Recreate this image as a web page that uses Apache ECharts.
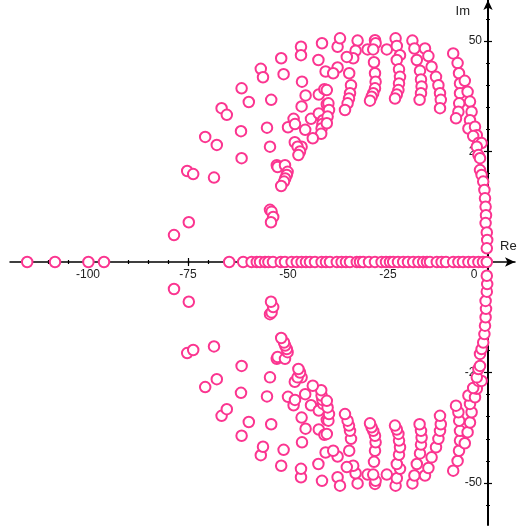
<!DOCTYPE html>
<html>
<head>
<meta charset="utf-8">
<script src="https://cdn.jsdelivr.net/npm/echarts@6/dist/echarts.min.js"></script>
<style>html,body{margin:0;padding:0;background:#fff}#c{width:520px;height:530px}</style>
</head>
<body>
<div id="c"></div>
<script>
// Complex roots, upper half-plane [Re, Im]; roots come in conjugate pairs.
var upperRoots = [
[-78.5,6.1],[-74.8,9.0],[-75.2,20.6],[-73.7,19.9],[-68.5,19.1],[-70.7,28.3],[-67.8,26.5],
[-66.6,34.8],[-65.3,33.3],[-61.6,39.3],[-61.75,29.6],[-61.6,23.5],[-59.8,36.2],[-56.8,43.7],
[-56.25,41.8],[-55.25,30.4],[-54.5,26.1],[-54.2,36.7],[-51.7,46.1],[-51.1,42.5],[-46.75,48.7],
[-46.75,46.8],[-41.5,49.5],[-42.4,45.7],[-46.5,40.8],[-40.6,43.1],[-45.6,37.7],[-42.3,37.9],
[-40.9,39.1],[-46.6,35.2],[-40.3,35.7],[-48.6,32.4],[-50.0,30.5],[-48.25,31.2],[-44.25,32.4],
[-42.3,33.6],[-41.25,32.1],[-41.4,31.2],[-41.6,30.2],[-41.7,29.0],[-45.7,29.9],[-43.8,28.0],
[-48.3,27.1],[-46.6,26.1],[-47.6,26.1],[-47.0,25.0],[-47.4,24.2],[-52.8,21.9],[-52.6,21.5],
[-50.75,21.9],[-50.1,20.4],[-50.3,19.7],[-50.7,18.9],[-51.0,18.2],[-51.7,17.2],[-54.5,11.8],
[-54.1,11.4],[-53.7,10.2],[-54.25,9.0],
[-37.6,48.7],[-37.0,50.6],[-32.6,50.1],[-33.1,47.8],[-33.7,46.1],[-35.3,46.4],[-37.6,44.0],
[-38.7,42.7],[-34.7,42.7],[-34.25,40.0],[-34.5,38.2],[-34.75,37.0],[-35.1,35.9],[-35.75,34.4],
[-40.3,38.9],[-39.9,35.9],[-39.75,34.4],[-40.1,32.9],[-40.3,31.4],
[-28.25,50.2],[-28.1,49.5],[-30.1,48.1],[-28.7,48.1],[-25.3,48.1],[-28.5,45.2],[-28.25,42.7],
[-28.1,40.8],[-28.25,39.3],[-28.7,38.2],[-29.1,37.4],[-29.5,36.5],
[-23.1,50.6],[-22.8,48.9],[-22.0,46.8],[-22.8,45.7],[-22.25,43.6],[-22.0,41.9],[-22.25,40.4],
[-22.4,38.9],[-22.8,37.9],[-23.25,37.0],
[-18.9,50.1],[-18.4,48.3],[-15.75,48.3],[-14.9,46.6],[-17.8,45.7],[-17.0,43.3],[-16.75,41.3],
[-16.6,39.7],[-16.75,38.2],[-17.1,36.7],[-14.1,44.2],[-13.0,41.9],[-12.4,40.0],[-12.0,38.2],
[-11.8,36.7],[-12.0,34.8],
[-8.7,47.2],[-7.6,45.0],[-7.25,42.7],[-7.0,40.4],[-7.0,38.2],[-7.2,35.9],[-7.4,34.0],[-8.0,32.5],
[-5.8,41.0],[-5.1,38.5],[-4.5,36.3],[-4.1,34.0],[-4.5,32.1],[-4.9,30.2],[-3.25,30.6],[-2.8,28.7],
[-3.7,28.5],[-2.4,26.9],[-1.6,26.9],[-2.8,26.1],[-2.4,24.2],[-2.0,23.5],[-2.0,20.8],[-1.6,19.7],
[-1.2,18.2],[-0.9,16.3],[-0.75,14.4],[-0.6,12.5],[-0.5,10.6],[-0.6,8.8],[-0.3,6.7],[-0.2,5.0],
[-0.3,3.1]
];
// Real roots [Re]
var realRoots = [
-115.2,-108.25,-99.9,-96,-64.7,-61.2,-59.1,-57.8,-57,-55.75,-54.9,-53.75,-51.8,-50.75,-49.1,
-47.8,-46.6,-45.5,-44.5,-43.25,-41.6,-40.5,-39.5,-37.8,-36.6,-35.5,-34.5,-32.8,-32,-31.2,
-29.75,-28.25,-26.6,-25.5,-24.5,-23.7,-22.5,-21.2,-20,-18.7,-17.4,-16.2,-15.25,-14.5,-12.8,
-11.6,-10.5,-8.7,-7.4,-6.25,-4.9,-3.7,-2.4,-1.25,-0.3
];
var xTickValues = [-115,-110,-105,-100,-95,-90,-85,-80,-75,-70,-65,-60,-55,-50,-45,-40,-35,-30,-25,-20,-15,-10,-5,5];
var xMajorValues = [-100,-75,-50,-25];
var xLabelValues = [-100,-75,-50,-25,0];
var yTickValues = [-55,-50,-45,-40,-35,-30,-25,-20,-15,-10,-5,5,10,15,20,25,30,35,40,45,50,55];
var yMajorValues = [-50,-25,25,50];
var yLabelValues = [-50,-25,25,50];

var roots = [];
upperRoots.forEach(function (p) { roots.push([p[0], p[1]]); roots.push([p[0], -p[1]]); });
realRoots.forEach(function (r) { roots.push([r, 0]); });

var XMIN = -119.5, XMAX = 6.75, YMIN = -59.5, YMAX = 59.28;
var FONT = 'Liberation Sans, Arial, sans-serif';
var W = 520, H = 530, GL = 10, GR = 5, GT = 0, GB = 5;
var pxPerX = (W - GL - GR) / (XMAX - XMIN);
var pxPerY = (H - GT - GB) / (YMAX - YMIN);
var x0 = GL + (0 - XMIN) * pxPerX;   // pixel of Re = 0
var y0 = GT + (YMAX - 0) * pxPerY;   // pixel of Im = 0

function g(o) { o.outerBoundsMode = 'none'; o.containLabel = false; return o; }
var grids = [
  g({ left: GL, right: GR, top: GT, bottom: GB }),             // 0: data
  g({ left: GL, right: GR, top: GT, height: y0 - GT }),       // 1: x axis, ticks down
  g({ left: GL, right: GR, top: y0, bottom: GB }),            // 2: x axis, ticks up
  g({ left: x0, right: GR, top: GT, bottom: GB }),            // 3: y axis, ticks left
  g({ left: GL, width: x0 - GL, top: GT, bottom: GB })        // 4: y axis, ticks right
];

function hidden(type, gi) {
  var o = { type: 'value', gridIndex: gi, show: false, splitLine: { show: false } };
  if (type === 'x') { o.min = XMIN; o.max = XMAX; } else { o.min = YMIN; o.max = YMAX; }
  return o;
}
function xAx(gi, pos, ticks, len, main) {
  return {
    type: 'value', gridIndex: gi, min: XMIN, max: XMAX, position: pos,
    name: main ? 'Re' : '', nameLocation: 'end', nameGap: -15,
    nameTextStyle: { color: '#222', fontSize: 13, fontFamily: FONT, verticalAlign: 'bottom', padding: [0, 0, 9, 0] },
    axisLine: { show: true, onZero: false, symbol: main ? ['none', 'arrow'] : 'none', symbolSize: [7, 10],
      lineStyle: { color: '#000', width: 1.5, opacity: main ? 1 : 0 } },
    axisTick: { show: true, customValues: ticks, length: len, lineStyle: { color: '#000', width: 1.2 } },
    axisLabel: main ? { show: true, customValues: xLabelValues, margin: 7, color: '#222', fontSize: 12, fontFamily: FONT,
      formatter: function (v) { return v === 0 ? '{z|0}' : String(v); },
      rich: { z: { padding: [0, 28, 0, 0], color: '#222', fontSize: 12, fontFamily: FONT } } } : { show: false },
    splitLine: { show: false }
  };
}
function yAx(gi, pos, ticks, len, main) {
  return {
    type: 'value', gridIndex: gi, min: YMIN, max: YMAX, position: pos,
    name: main ? 'Im' : '', nameLocation: 'end', nameGap: -18,
    nameTextStyle: { color: '#222', fontSize: 13, fontFamily: FONT, align: 'right', verticalAlign: 'bottom', padding: [0, 18, 0, 0] },
    axisLine: { show: true, onZero: false, symbol: main ? ['none', 'arrow'] : 'none', symbolSize: [7, 10],
      lineStyle: { color: '#000', width: 2, opacity: main ? 1 : 0 } },
    axisTick: { show: true, customValues: ticks, length: len, lineStyle: { color: '#000', width: 1.2 } },
    axisLabel: main ? { show: true, customValues: yLabelValues, margin: 6, color: '#222', fontSize: 12, fontFamily: FONT } : { show: false },
    splitLine: { show: false }
  };
}

var chart = echarts.init(document.getElementById('c'), null, { renderer: 'canvas' });
chart.setOption({
  animation: false,
  backgroundColor: '#fff',
  grid: grids,
  xAxis: [
    hidden('x', 0),
    xAx(1, 'bottom', xTickValues, 2, true),
    xAx(1, 'bottom', xMajorValues, 4, false),
    xAx(2, 'top', xTickValues, 2, false),
    xAx(2, 'top', xMajorValues, 4, false),
    hidden('x', 3),
    hidden('x', 4)
  ],
  yAxis: [
    hidden('y', 0),
    hidden('y', 1),
    hidden('y', 1),
    hidden('y', 2),
    hidden('y', 2),
    yAx(3, 'left', yTickValues, 2, true),
    yAx(4, 'right', yTickValues, 2, false)
  ].concat([
    yAx(3, 'left', yMajorValues, 4, false),
    yAx(4, 'right', yMajorValues, 4, false)
  ]),
  series: [{
    type: 'scatter',
    xAxisIndex: 0, yAxisIndex: 0,
    data: roots,
    symbol: 'circle',
    symbolSize: 10.5,
    itemStyle: { color: '#ffffff', borderColor: '#fb3590', borderWidth: 2, opacity: 1 },
    emphasis: { disabled: true },
    z: 5
  }]
});
</script>
</body>
</html>
